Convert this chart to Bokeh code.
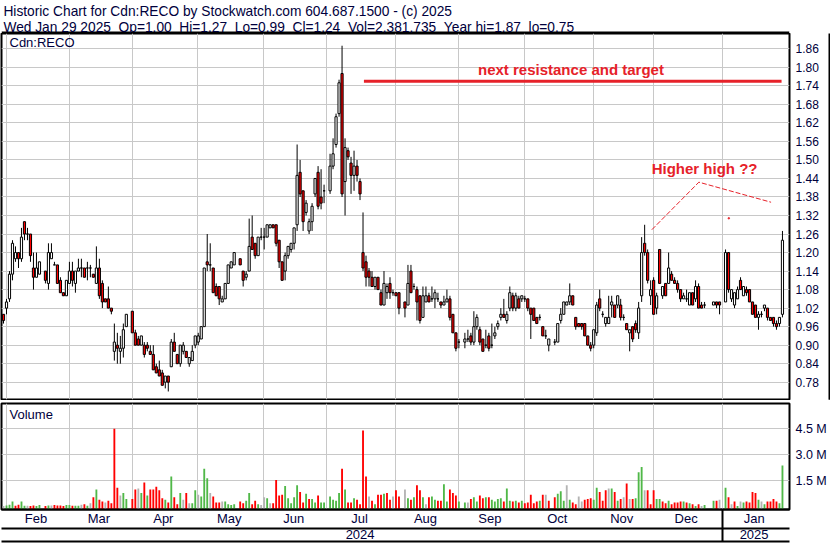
import numpy as np
from bokeh.plotting import figure
from bokeh.layouts import column, row
from bokeh.models import (ColumnDataSource, Range1d, FixedTicker, LinearAxis,
                          PrintfTickFormatter, Label, BoxAnnotation)
from bokeh.embed import file_html
from bokeh.resources import INLINE

# ---------------------------------------------------------------- data
HOLIDAYS = ["2024-02-19", "2024-03-29", "2024-05-20", "2024-07-01", "2024-08-05",
            "2024-09-02", "2024-10-14", "2024-12-25", "2024-12-26", "2025-01-01"]
FIRST_DAY = "2024-01-31"
LAST_DAY = "2025-01-29"

opens = [
    1.00, 1.02, 1.05, 1.13, 1.18, 1.20, 1.18, 1.30, 1.26, 1.26, 1.15, 1.12, 1.13,
    1.14, 1.10, 1.18, 1.16, 1.16, 1.11, 1.07, 1.06, 1.10, 1.14, 1.10, 1.14, 1.15, 1.15,
    1.15, 1.15, 1.13, 1.10, 1.15, 1.10, 1.05, 1.05, 1.02, 0.88, 0.90, 0.88, 0.89, 0.96,
    1.01, 0.94, 0.92, 0.90, 0.90, 0.90, 0.88, 0.87, 0.83, 0.82, 0.81, 0.78, 0.80, 0.83,
    0.91, 0.87, 0.84, 0.88, 0.88, 0.84, 0.85, 0.90, 0.91, 0.92, 0.96, 1.17, 1.16, 1.15,
    1.09, 1.09, 1.04, 1.05, 1.10, 1.15, 1.16,
    1.18, 1.14, 1.12, 1.14, 1.25, 1.23, 1.19, 1.25, 1.25, 1.25, 1.28, 1.29, 1.29, 1.24,
    1.17, 1.14, 1.19, 1.21, 1.23, 1.29, 1.46, 1.40, 1.33, 1.27, 1.30, 1.39, 1.46, 1.38, 1.40,
    1.40, 1.48, 1.55, 1.65, 1.78, 1.43, 1.53, 1.49, 1.45, 1.48, 1.43, 1.20, 1.17, 1.14,
    1.12, 1.09, 1.12, 1.07, 1.03, 1.07, 1.10, 1.07, 1.07, 1.07,
    1.04, 1.03, 1.14, 1.09, 1.08, 1.06, 0.99, 1.04, 1.06, 1.05, 1.05, 1.05, 1.04, 1.03,
    1.04, 1.05, 1.00, 0.94, 0.91,
    0.91, 0.92, 0.93, 0.91, 0.96, 0.95, 0.92, 0.90, 0.93, 0.90, 0.93, 0.96, 0.99, 1.00,
    0.98, 1.02, 1.06, 1.02, 1.05, 1.05, 1.05, 1.05, 1.02, 1.02, 0.99, 0.99, 0.96, 0.93, 0.90,
    0.91, 0.91, 0.98, 1.00, 1.03, 1.04, 1.06, 0.99, 0.97, 0.97,
    0.97, 0.93, 0.90, 0.90, 0.94, 1.05, 1.00, 0.97, 0.97, 1.03,
    1.03, 1.03, 1.03, 0.99, 0.97, 0.94, 0.96, 0.97, 0.94, 1.06,
    1.23, 1.20, 1.06, 1.11, 1.02, 1.21, 1.06, 1.10, 1.10, 1.13,
    1.11, 1.10, 1.08, 1.05, 1.05, 1.03, 1.07, 1.05, 1.09, 1.03,
    1.03,
    1.03, 1.04, 1.04,
    1.04, 1.20, 1.05, 1.03, 1.05, 1.11, 1.06, 1.08, 1.08, 1.04, 1.03, 0.99, 1.00, 1.02,
    1.02, 0.99, 0.99, 0.97, 0.97, 1.00,
]
highs = [
    1.00, 1.05, 1.14, 1.24, 1.22, 1.20, 1.28, 1.30, 1.28, 1.26, 1.20, 1.20, 1.17,
    1.14, 1.23, 1.23, 1.17, 1.16, 1.12, 1.07, 1.11, 1.17, 1.17, 1.14, 1.18, 1.18, 1.15,
    1.17, 1.16, 1.13, 1.22, 1.18, 1.11, 1.05, 1.09, 1.02, 0.97, 0.94, 0.93, 0.97, 1.00,
    1.01, 0.95, 0.93, 0.93, 0.91, 0.91, 0.90, 0.90, 0.84, 0.85, 0.82, 0.80, 0.80, 0.92,
    0.94, 0.87, 0.90, 0.91, 0.88, 0.86, 0.90, 0.93, 0.94, 0.96, 1.15, 1.26, 1.23, 1.15,
    1.10, 1.09, 1.06, 1.10, 1.16, 1.17, 1.20,
    1.18, 1.14, 1.14, 1.31, 1.32, 1.23, 1.25, 1.28, 1.28, 1.29, 1.29, 1.29, 1.29, 1.24,
    1.17, 1.20, 1.22, 1.23, 1.28, 1.55, 1.50, 1.40, 1.37, 1.31, 1.36, 1.44, 1.48, 1.47, 1.42,
    1.52, 1.57, 1.65, 1.76, 1.87, 1.57, 1.54, 1.51, 1.53, 1.50, 1.44, 1.33, 1.19, 1.15,
    1.14, 1.12, 1.12, 1.08, 1.14, 1.10, 1.12, 1.08, 1.07, 1.07,
    1.04, 1.16, 1.16, 1.10, 1.09, 1.06, 1.09, 1.09, 1.07, 1.09, 1.08, 1.07, 1.04, 1.06,
    1.08, 1.06, 1.00, 0.94, 0.92,
    0.94, 0.95, 0.94, 1.01, 1.00, 0.96, 0.92, 0.95, 0.94, 0.97, 0.96, 0.98, 1.02, 1.05,
    1.01, 1.09, 1.07, 1.07, 1.06, 1.06, 1.06, 1.05, 1.02, 1.02, 0.99, 1.00, 0.96, 0.95, 0.92,
    0.92, 0.97, 1.02, 1.04, 1.04, 1.10, 1.06, 0.99, 0.97, 0.97,
    0.97, 0.93, 0.91, 0.95, 1.04, 1.08, 1.01, 0.99, 1.06, 1.06,
    1.03, 1.06, 1.05, 1.00, 0.97, 0.95, 0.96, 0.98, 1.04, 1.25,
    1.29, 1.21, 1.11, 1.12, 1.07, 1.21, 1.09, 1.10, 1.20, 1.14,
    1.12, 1.11, 1.08, 1.07, 1.08, 1.07, 1.07, 1.11, 1.10, 1.04,
    1.04,
    1.04, 1.04, 1.04,
    1.21, 1.20, 1.08, 1.07, 1.09, 1.12, 1.09, 1.09, 1.08, 1.04, 1.03, 1.01, 1.01, 1.03,
    1.02, 0.99, 0.99, 0.98, 0.99, 1.27,
]
lows = [
    0.97, 1.00, 1.04, 1.11, 1.17, 1.15, 1.17, 1.24, 1.24, 1.17, 1.08, 1.12, 1.13,
    1.10, 1.08, 1.18, 1.16, 1.10, 1.07, 1.06, 1.06, 1.10, 1.09, 1.07, 1.14, 1.12, 1.12,
    1.11, 1.12, 1.12, 1.10, 1.05, 1.02, 1.04, 1.02, 1.00, 0.85, 0.84, 0.84, 0.86, 0.96,
    0.94, 0.90, 0.90, 0.90, 0.86, 0.88, 0.87, 0.82, 0.81, 0.80, 0.77, 0.76, 0.75, 0.83,
    0.88, 0.84, 0.83, 0.87, 0.86, 0.83, 0.85, 0.89, 0.90, 0.92, 0.96, 1.14, 1.14, 1.07,
    1.06, 1.03, 1.04, 1.05, 1.10, 1.15, 1.16,
    1.16, 1.09, 1.11, 1.14, 1.21, 1.18, 1.19, 1.24, 1.21, 1.25, 1.28, 1.28, 1.22, 1.15,
    1.11, 1.11, 1.18, 1.20, 1.21, 1.27, 1.38, 1.27, 1.32, 1.26, 1.27, 1.38, 1.34, 1.34, 1.36,
    1.39, 1.47, 1.54, 1.64, 1.38, 1.32, 1.50, 1.39, 1.40, 1.43, 1.37, 1.14, 1.09, 1.09,
    1.09, 1.08, 1.08, 1.03, 1.03, 1.05, 1.05, 1.06, 1.06, 1.00,
    0.99, 1.03, 1.07, 1.08, 0.98, 0.97, 0.99, 1.04, 1.04, 1.04, 1.02, 1.04, 1.02, 1.03,
    1.04, 0.98, 0.94, 0.88, 0.89,
    0.89, 0.91, 0.90, 0.90, 0.95, 0.90, 0.88, 0.89, 0.88, 0.89, 0.92, 0.95, 0.98, 0.99,
    0.97, 1.01, 1.01, 1.01, 1.02, 1.04, 1.04, 1.01, 0.92, 0.98, 0.97, 0.98, 0.93, 0.92, 0.88,
    0.90, 0.91, 0.97, 1.00, 1.03, 1.03, 1.03, 0.95, 0.96, 0.95,
    0.93, 0.90, 0.88, 0.89, 0.93, 1.01, 0.99, 0.96, 0.97, 0.99,
    0.99, 1.02, 0.98, 0.98, 0.95, 0.88, 0.91, 0.94, 0.92, 1.04,
    1.19, 1.10, 1.03, 1.00, 1.00, 1.10, 1.05, 1.06, 1.10, 1.11,
    1.10, 1.07, 1.04, 1.05, 1.04, 1.03, 1.03, 1.04, 1.02, 1.02,
    1.02,
    1.03, 1.02, 1.00,
    1.04, 1.07, 1.04, 1.02, 1.05, 1.08, 1.06, 1.06, 1.04, 1.00, 0.99, 0.95, 0.99, 1.01,
    0.98, 0.98, 0.96, 0.95, 0.96, 0.99,
]
closes = [
    0.98, 1.04, 1.13, 1.23, 1.20, 1.18, 1.25, 1.26, 1.26, 1.19, 1.12, 1.15, 1.17,
    1.11, 1.20, 1.20, 1.16, 1.10, 1.07, 1.06, 1.11, 1.14, 1.11, 1.14, 1.15, 1.15, 1.12,
    1.15, 1.15, 1.12, 1.15, 1.06, 1.04, 1.04, 1.02, 1.01, 0.91, 0.89, 0.89, 0.95, 1.00,
    0.94, 0.90, 0.90, 0.93, 0.87, 0.89, 0.87, 0.82, 0.81, 0.80, 0.77, 0.80, 0.78, 0.91,
    0.88, 0.84, 0.90, 0.90, 0.86, 0.86, 0.88, 0.93, 0.93, 0.96, 1.15, 1.16, 1.16, 1.07,
    1.06, 1.05, 1.05, 1.10, 1.16, 1.17, 1.20,
    1.16, 1.11, 1.13, 1.22, 1.21, 1.19, 1.25, 1.25, 1.25, 1.29, 1.29, 1.28, 1.23, 1.17,
    1.11, 1.19, 1.22, 1.23, 1.28, 1.45, 1.39, 1.30, 1.36, 1.30, 1.35, 1.44, 1.35, 1.36, 1.40,
    1.48, 1.52, 1.64, 1.75, 1.39, 1.54, 1.51, 1.45, 1.48, 1.45, 1.39, 1.15, 1.12, 1.12,
    1.09, 1.12, 1.08, 1.03, 1.10, 1.09, 1.07, 1.07, 1.06, 1.02,
    1.02, 1.10, 1.07, 1.09, 1.04, 0.98, 1.06, 1.06, 1.04, 1.05, 1.07, 1.05, 1.03, 1.04,
    1.05, 0.99, 0.94, 0.89, 0.91,
    0.92, 0.92, 0.91, 0.96, 0.99, 0.91, 0.88, 0.90, 0.89, 0.90, 0.94, 0.97, 1.00, 0.99,
    1.00, 1.07, 1.02, 1.06, 1.02, 1.06, 1.05, 1.02, 1.00, 0.98, 0.97, 0.99, 0.93, 0.93, 0.92,
    0.91, 0.97, 1.00, 1.04, 1.04, 1.06, 1.03, 0.96, 0.96, 0.96,
    0.93, 0.90, 0.89, 0.95, 1.03, 1.02, 1.00, 0.99, 0.99, 1.04,
    0.99, 1.06, 0.99, 0.99, 0.95, 0.95, 0.92, 0.95, 1.02, 1.20,
    1.20, 1.11, 1.08, 1.00, 1.06, 1.10, 1.09, 1.06, 1.15, 1.11,
    1.10, 1.08, 1.05, 1.06, 1.05, 1.07, 1.03, 1.09, 1.02, 1.02,
    1.03,
    1.04, 1.03, 1.03,
    1.20, 1.08, 1.08, 1.07, 1.08, 1.08, 1.09, 1.07, 1.04, 1.00, 0.99, 1.00, 1.00, 1.03,
    0.99, 0.98, 0.97, 0.96, 0.99, 1.24,
]
volumes_m = [
    0.05, 0.08, 0.12, 0.30, 0.06, 0.12, 0.30, 0.06, 0.06, 0.05, 0.08, 0.05, 0.10,
    0.05, 0.08, 0.08, 0.10, 0.08, 0.07, 0.05, 0.10, 0.10, 0.06, 0.06, 0.06, 0.12, 0.15,
    0.06, 0.20, 0.55, 1.00, 0.40, 0.30, 0.25, 0.35, 0.20, 4.50, 1.10, 0.65, 0.80, 0.45,
    0.45, 1.00, 1.05, 0.80, 1.40, 0.65, 1.00, 1.00, 1.15, 0.95, 0.50, 0.40, 0.25, 1.75,
    0.55, 0.15, 0.80, 0.40, 0.80, 0.20, 0.20, 0.95, 0.70, 0.60, 2.20, 1.65, 0.80, 0.60,
    0.25, 0.25, 0.30, 0.30, 0.15, 0.10, 0.15,
    0.30, 0.20, 0.35, 0.80, 0.15, 0.35, 0.15, 0.10, 0.55, 0.50, 0.20, 0.20, 1.55, 0.65,
    0.70, 1.20, 0.50, 0.20, 0.55, 1.25, 0.85, 0.25, 0.75, 0.45, 0.45, 0.25, 0.65, 0.25, 0.25,
    0.60, 0.40, 0.35, 0.80, 2.20, 1.00, 0.25, 0.25, 0.50, 0.40, 0.15, 4.40, 1.75, 0.60,
    0.35, 0.15, 0.70, 0.70, 0.75, 0.80, 0.40, 0.60, 0.95, 0.60,
    1.00, 0.50, 0.40, 0.55, 1.25, 0.95, 0.55, 0.15, 0.55, 0.60, 0.40, 0.35, 0.35, 1.30,
    0.30, 1.00, 0.80, 0.65, 0.30,
    0.25, 0.25, 0.45, 0.55, 0.30, 0.65, 0.50, 0.55, 0.55, 0.40, 0.30, 0.45, 0.50, 0.30,
    1.05, 0.35, 0.30, 0.35, 0.25, 0.35, 0.20, 0.25, 0.70, 0.20, 0.30, 0.35, 0.70, 0.70, 0.35,
    0.55, 0.75, 0.90, 0.35, 1.25, 0.40, 0.25, 0.15, 0.60, 0.30,
    0.40, 0.45, 0.50, 0.40, 1.10, 0.85, 0.35, 0.95, 1.05, 1.05,
    0.85, 0.35, 0.45, 0.55, 1.35, 0.45, 0.45, 0.50, 2.00, 2.30,
    0.95, 0.95, 0.15, 0.95, 0.45, 0.45, 0.30, 0.20, 0.35, 0.15,
    0.25, 0.25, 0.30, 0.30, 0.25, 0.20, 0.15, 0.05, 0.15, 0.05,
    0.10,
    0.35, 0.35, 0.40,
    1.10, 0.55, 0.15, 0.30, 0.05, 0.30, 0.25, 0.30, 0.25, 0.85, 0.80, 0.40, 0.30, 0.15,
    0.30, 0.30, 0.45, 0.30, 0.20, 2.38,
]

price_ticks = [0.78, 0.84, 0.90, 0.96, 1.02, 1.08, 1.14, 1.20, 1.26, 1.32, 1.38,
               1.44, 1.50, 1.56, 1.62, 1.68, 1.74, 1.80, 1.86]
volume_ticks = [1.5, 3.0, 4.5]
month_names = ["Feb", "Mar", "Apr", "May", "Jun", "Jul", "Aug", "Sep", "Oct", "Nov", "Dec", "Jan"]
year_names = ["2024", "2025"]

# annotations drawn on the chart
resistance_level = 1.755
resistance_span = [119.3, 258.7]
resistance_text = "next resistance and target"
resistance_text_pos = (188.4, 1.793)
higher_x = [215.4, 231.1, 255.2]
higher_y = [1.274, 1.428, 1.363]
higher_dot = (241.1, 1.311)
higher_text = "Higher high ??"
higher_text_pos = (233.0, 1.473)

header_1 = "Historic Chart for Cdn:RECO by Stockwatch.com 604.687.1500 - (c) 2025"
header_2 = ("Wed Jan 29 2025 \u00a0Op=1.00 \u00a0Hi=1.27 \u00a0Lo=0.99 \u00a0Cl=1.24 "
            "\u00a0Vol=2,381,735 \u00a0Year hi=1.87 \u00a0lo=0.75")

# ---------------------------------------------------------------- positions
base = np.datetime64("2024-02-01")
days = np.arange(np.datetime64(FIRST_DAY), np.datetime64(LAST_DAY) + 1)
dates = days[np.is_busday(days, holidays=HOLIDAYS)]
xs = np.busday_count(base, dates).astype(float)   # weekday index

o = np.array(opens); h = np.array(highs); l = np.array(lows); c = np.array(closes)
v = np.array(volumes_m)
n = min(len(xs), len(o), len(h), len(l), len(c), len(v))
xs, o, h, l, c, v = xs[:n], o[:n], h[:n], l[:n], c[:n], v[:n]

X_START, X_END = -1.67, 261.35
P_LO, P_HI = 0.724, 1.9096
V_LO, V_HI = -0.156, 5.96

body_color = ["#ff0000" if cc < oo else "white" for oo, cc in zip(o, c)]
vol_color = ["#b4b4b4"]
for i in range(1, n):
    if c[i] > c[i - 1]:
        vol_color.append("#50b848")
    elif c[i] < c[i - 1]:
        vol_color.append("#ff0000")
    else:
        vol_color.append("#b4b4b4")

src = ColumnDataSource(dict(x=xs, high=h, low=l, top=np.maximum(o, c), bottom=np.minimum(o, c),
                            body=body_color, vol=v, vcolor=vol_color))

month_starts = np.arange(np.datetime64("2024-02"), np.datetime64("2025-02")).astype("datetime64[D]")
grid_x = [float(np.busday_count(base, d)) - 0.1 - (0.0 if np.is_busday(d) else 1.0) for d in month_starts]
edges = grid_x + [X_END]
month_pos = [round((edges[k] + edges[k + 1]) / 2 - 0.55, 2) for k in range(len(month_names))]
jan_line = grid_x[-1]
year_pos = [round((X_START + jan_line) / 2 - 0.6, 2), round((jan_line + X_END) / 2 - 0.6, 2)]

# ---------------------------------------------------------------- styling constants
FONT = "Liberation Sans"
NAVY = "#00003c"
MARK_RED = "#e62129"
GRID = "#c8c8c8"
TOTAL_W = 830
BAR_W = 2
HDR_H = 33
PRICE_H = 367
VOL_H = 143
LEFT_B = 1
FRAME_W = 788
PRICE_FRAME_H = PRICE_H - 1
VOL_TOP_B, VOL_BOT_B = 3, 34
VOL_FRAME_H = VOL_H - VOL_TOP_B - VOL_BOT_B

xr = Range1d(X_START, X_END)

# ---------------------------------------------------------------- header
hdr = figure(width=TOTAL_W, height=HDR_H, x_range=Range1d(0, TOTAL_W), y_range=Range1d(HDR_H, 0),
             x_axis_location=None, y_axis_location=None, toolbar_location=None,
             output_backend="svg", min_border=0, outline_line_color=None)
hdr.grid.visible = False
hdr.add_layout(BoxAnnotation(bottom=31, top=33, fill_color="black", fill_alpha=1.0, line_color=None))
for txt, yy in ((header_1, 11.0), (header_2, 26.5)):
    hdr.add_layout(Label(x=2, y=yy, text=txt, text_font=FONT, text_font_size="13.75px",
                         text_color=NAVY, text_baseline="alphabetic"))

# ---------------------------------------------------------------- price panel
PW = TOTAL_W - BAR_W
pp = figure(width=PW, height=PRICE_H, x_range=xr, y_range=Range1d(P_LO, P_HI),
            x_axis_location=None, y_axis_location="right", toolbar_location=None,
            output_backend="svg", min_border_left=LEFT_B, min_border_right=PW - LEFT_B - FRAME_W,
            min_border_top=0, min_border_bottom=1,
            outline_line_color="black", outline_line_width=2,
            background_fill_color="white", border_fill_color="white")
pp.xgrid.ticker = FixedTicker(ticks=grid_x)
pp.xgrid.grid_line_color = GRID
pp.ygrid.grid_line_color = GRID
ya = pp.yaxis[0]
ya.ticker = FixedTicker(ticks=price_ticks)
ya.formatter = PrintfTickFormatter(format="%.2f")
ya.axis_line_color = None
ya.major_tick_in = 0
ya.major_tick_out = 0
ya.minor_tick_line_color = None
ya.major_label_standoff = 6
ya.major_label_text_font = FONT
ya.major_label_text_font_size = "12px"
ya.major_label_text_color = NAVY

pp.segment(x0="x", y0="low", x1="x", y1="high", source=src, line_color="black", line_width=1)
pp.vbar(x="x", width=0.72, top="top", bottom="bottom", source=src,
        fill_color="body", line_color="black", line_width=1)

pp.line(x=resistance_span, y=[resistance_level, resistance_level], line_color=MARK_RED, line_width=3)
pp.line(x=higher_x, y=higher_y, line_color=MARK_RED, line_width=1, line_dash="5 2")
pp.scatter(x=[higher_dot[0]], y=[higher_dot[1]], size=1.5, color=MARK_RED)
pp.add_layout(Label(x=resistance_text_pos[0], y=resistance_text_pos[1], text=resistance_text,
                    text_font=FONT, text_font_size="15px", text_font_style="bold",
                    text_color=MARK_RED, text_align="center", text_baseline="alphabetic"))
pp.add_layout(Label(x=higher_text_pos[0], y=higher_text_pos[1], text=higher_text,
                    text_font=FONT, text_font_size="15px", text_font_style="bold",
                    text_color=MARK_RED, text_align="center", text_baseline="alphabetic"))
px_x = (X_END - X_START) / FRAME_W
px_p = (P_HI - P_LO) / PRICE_FRAME_H
pp.add_layout(Label(x=X_START + 8 * px_x, y=P_HI - 8.5 * px_p, text="Cdn:RECO",
                    text_font=FONT, text_font_size="13px", text_color=NAVY,
                    text_baseline="alphabetic"))

rbar = figure(width=BAR_W, height=PRICE_H, x_axis_location=None, y_axis_location=None,
              toolbar_location=None, output_backend="svg", min_border=0,
              background_fill_color="black", border_fill_color="black", outline_line_color=None)
rbar.grid.visible = False

# ---------------------------------------------------------------- volume panel
vp = figure(width=TOTAL_W, height=VOL_H, x_range=xr, y_range=Range1d(V_LO, V_HI),
            x_axis_location=None, y_axis_location="right", toolbar_location=None,
            output_backend="svg", min_border_left=LEFT_B, min_border_right=TOTAL_W - LEFT_B - FRAME_W,
            min_border_top=VOL_TOP_B, min_border_bottom=VOL_BOT_B,
            outline_line_color="black", outline_line_width=2,
            background_fill_color="white", border_fill_color="white")
vp.xgrid.ticker = FixedTicker(ticks=grid_x)
vp.xgrid.grid_line_color = GRID
vp.ygrid.grid_line_color = GRID
va = vp.yaxis[0]
va.ticker = FixedTicker(ticks=volume_ticks)
va.formatter = PrintfTickFormatter(format="%.1f M")
va.axis_line_color = None
va.major_tick_in = 0
va.major_tick_out = 0
va.minor_tick_line_color = None
va.major_label_standoff = 6
va.major_label_text_font = FONT
va.major_label_text_font_size = "12.5px"
va.major_label_text_color = NAVY

vp.vbar(x="x", width=0.62, top="vol", bottom=V_LO, source=src, fill_color="vcolor", line_color=None)
px_v = (V_HI - V_LO) / VOL_FRAME_H
vp.add_layout(Label(x=X_START + 8 * px_x, y=V_HI - 11 * px_v, text="Volume",
                    text_font=FONT, text_font_size="13px", text_color=NAVY,
                    text_baseline="alphabetic"))

month_axis = LinearAxis(
    ticker=FixedTicker(ticks=month_pos, minor_ticks=[]),
    major_label_overrides={p: nm for p, nm in zip(month_pos, month_names)},
    major_tick_in=0, major_tick_out=0, major_tick_line_color=None,
    minor_tick_in=0, minor_tick_out=0, minor_tick_line_color=None,
    axis_line_color="black", axis_line_width=2, major_label_standoff=1,
    major_label_text_font=FONT, major_label_text_font_size="13px", major_label_text_color=NAVY)
year_axis = LinearAxis(
    ticker=FixedTicker(ticks=year_pos, minor_ticks=[]),
    major_label_overrides={p: nm for p, nm in zip(year_pos, year_names)},
    major_tick_in=0, major_tick_out=0, major_tick_line_color=None,
    minor_tick_in=0, minor_tick_out=0, minor_tick_line_color=None,
    axis_line_color="black", axis_line_width=2, major_label_standoff=1,
    major_label_text_font=FONT, major_label_text_font_size="13px", major_label_text_color=NAVY)
end_axis = LinearAxis(
    ticker=FixedTicker(ticks=[], minor_ticks=[jan_line]),
    major_tick_in=0, major_tick_out=0, major_tick_line_color=None,
    minor_tick_in=32, minor_tick_out=0, minor_tick_line_color="black", minor_tick_line_width=2,
    axis_line_color="black", axis_line_width=2, major_label_standoff=0)
vp.add_layout(month_axis, "below")
vp.add_layout(year_axis, "below")
vp.add_layout(end_axis, "below")

layout = column(hdr, row(pp, rbar), vp)
open("out.html", "w").write(file_html(layout, INLINE, "Cdn:RECO"))
